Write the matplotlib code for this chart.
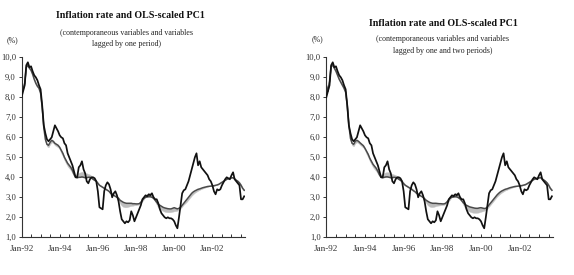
import matplotlib
matplotlib.use("Agg")
import matplotlib.pyplot as plt
import numpy as np

# ---- data (monthly, Jan-92 .. Sep-03) ----
inflation = [
    8.0, 8.3, 8.6, 9.6, 9.75, 9.5, 9.55, 9.3, 9.1, 9.0, 8.85, 8.6,      # 1992
    8.4, 7.6, 6.6, 6.2, 5.9, 5.8, 5.9, 6.0, 6.3, 6.6, 6.45, 6.3,        # 1993
    6.1, 6.0, 5.95, 5.7, 5.6, 5.2, 5.0, 4.8, 4.6, 4.3, 4.0, 4.0,        # 1994
    4.5, 4.6, 4.8, 4.4, 4.2, 3.8, 3.7, 3.9, 4.0, 4.0, 3.95, 3.8,        # 1995
    3.3, 2.5, 2.45, 2.4, 3.3, 3.6, 3.75, 3.65, 3.4, 3.0, 3.2, 3.3,      # 1996
    3.1, 2.8, 2.3, 1.9, 1.8, 1.7, 1.8, 1.75, 1.85, 2.3, 2.1, 1.8,       # 1997
    2.0, 2.2, 2.4, 2.6, 2.9, 3.0, 3.1, 3.05, 3.15, 3.1, 3.2, 3.0,       # 1998
    2.9, 2.9, 2.7, 2.4, 2.2, 2.1, 2.0, 1.95, 2.0, 1.95, 1.95, 1.9,      # 1999
    1.8, 1.6, 1.45, 2.0, 2.6, 3.2, 3.35, 3.4, 3.6, 3.8, 4.1, 4.4,       # 2000
    4.7, 5.0, 5.2, 4.6, 4.8, 4.5, 4.4, 4.3, 4.2, 4.1, 3.9, 3.8,         # 2001
    3.6, 3.3, 3.15, 3.4, 3.35, 3.4, 3.6, 3.75, 3.9, 4.0, 3.95, 3.9,     # 2002
    4.1, 4.25, 3.9, 3.8, 3.7, 3.6, 2.9, 2.9, 3.05,                      # 2003
]

pc1_left = [
    8.5, 8.4, 8.7, 9.5, 9.6, 9.45, 9.35, 9.15, 8.9, 8.7, 8.55, 8.45,
    8.2, 7.5, 6.5, 5.9, 5.65, 5.6, 5.75, 5.85, 5.8, 5.7, 5.65, 5.6,
    5.5, 5.35, 5.2, 5.0, 4.85, 4.7, 4.6, 4.5, 4.35, 4.15, 4.0, 3.98,
    4.0, 4.0, 4.02, 4.0, 3.98, 3.98, 4.0, 4.0, 3.97, 3.9, 3.85, 3.8,
    3.7, 3.6, 3.55, 3.5, 3.45, 3.4, 3.35, 3.3, 3.2, 3.15, 3.1, 3.05,
    3.0, 2.95, 2.85, 2.8, 2.75, 2.72, 2.7, 2.7, 2.7, 2.7, 2.68, 2.68,
    2.67, 2.67, 2.68, 2.75, 2.85, 2.95, 3.0, 3.02, 3.03, 3.03, 3.0, 2.95,
    2.85, 2.75, 2.65, 2.6, 2.55, 2.5, 2.47, 2.45, 2.43, 2.42, 2.42, 2.45,
    2.48, 2.45, 2.42, 2.45, 2.5, 2.6, 2.7, 2.8, 2.9, 3.0, 3.1, 3.2,
    3.27, 3.32, 3.36, 3.4, 3.42, 3.45, 3.48, 3.5, 3.52, 3.54, 3.55, 3.56,
    3.57, 3.58, 3.6, 3.62, 3.65, 3.7, 3.75, 3.8, 3.85, 3.9, 3.93, 3.95,
    3.97, 3.98, 3.92, 3.85, 3.8, 3.72, 3.6, 3.45, 3.35,
]

band_left = [
    8.55, 8.45, 8.75, 9.55, 9.65, 9.5, 9.4, 9.2, 8.95, 8.75, 8.6, 8.5,
    8.25, 7.4, 6.4, 5.8, 5.55, 5.5, 5.65, 5.75, 5.7, 5.6, 5.55, 5.5,
    5.4, 5.2, 5.05, 4.85, 4.7, 4.55, 4.45, 4.35, 4.2, 4.05, 4.12, 4.18,
    4.22, 4.25, 4.28, 4.25, 4.22, 4.2, 4.17, 4.14, 4.07, 3.98, 3.92, 3.85,
    3.75, 3.65, 3.6, 3.55, 3.5, 3.45, 3.4, 3.32, 3.25, 3.2, 3.12, 3.05,
    2.98, 2.85, 2.68, 2.58, 2.52, 2.5, 2.5, 2.52, 2.55, 2.57, 2.58, 2.6,
    2.6, 2.62, 2.65, 2.72, 2.8, 2.9, 3.12, 3.17, 3.2, 3.22, 3.14, 3.05,
    2.8, 2.62, 2.48, 2.42, 2.36, 2.31, 2.28, 2.26, 2.25, 2.25, 2.26, 2.28,
    2.3, 2.31, 2.33, 2.38, 2.43, 2.53, 2.63, 2.7, 2.78, 2.88, 2.98, 3.08,
    3.16, 3.23, 3.28, 3.33, 3.37, 3.41, 3.44, 3.47, 3.5, 3.53, 3.55, 3.56,
    3.57, 3.58, 3.6, 3.62, 3.66, 3.72, 3.78, 3.83, 3.88, 3.92, 3.96, 3.98,
    4.0, 4.02, 3.96, 3.9, 3.84, 3.76, 3.65, 3.5, 3.4,
]

pc1_right = [
    8.6, 8.3, 8.8, 9.55, 9.6, 9.45, 9.3, 9.1, 8.9, 8.75, 8.6, 8.45,
    8.25, 7.6, 6.6, 5.95, 5.7, 5.65, 5.8, 5.85, 5.8, 5.72, 5.65, 5.58,
    5.45, 5.3, 5.15, 4.95, 4.8, 4.65, 4.55, 4.45, 4.3, 4.12, 4.0, 3.98,
    4.0, 4.02, 4.02, 4.0, 3.98, 3.98, 4.0, 3.99, 3.96, 3.9, 3.85, 3.78,
    3.68, 3.6, 3.55, 3.5, 3.45, 3.4, 3.33, 3.28, 3.2, 3.15, 3.1, 3.05,
    3.0, 2.93, 2.85, 2.8, 2.75, 2.72, 2.7, 2.7, 2.7, 2.69, 2.68, 2.68,
    2.67, 2.67, 2.7, 2.78, 2.88, 2.97, 3.0, 3.02, 3.03, 3.02, 2.98, 2.92,
    2.83, 2.73, 2.65, 2.6, 2.56, 2.52, 2.5, 2.48, 2.46, 2.45, 2.45, 2.47,
    2.48, 2.46, 2.44, 2.45, 2.52, 2.62, 2.72, 2.82, 2.92, 3.02, 3.12, 3.2,
    3.27, 3.32, 3.36, 3.4, 3.42, 3.45, 3.48, 3.5, 3.52, 3.54, 3.55, 3.56,
    3.57, 3.58, 3.6, 3.62, 3.65, 3.7, 3.75, 3.8, 3.85, 3.9, 3.93, 3.95,
    3.97, 3.98, 3.92, 3.86, 3.8, 3.72, 3.6, 3.45, 3.35,
]

band_right = [
    8.65, 8.4, 8.85, 9.6, 9.65, 9.5, 9.35, 9.15, 8.95, 8.8, 8.65, 8.5,
    8.3, 7.5, 6.5, 5.85, 5.6, 5.55, 5.7, 5.75, 5.7, 5.62, 5.55, 5.48,
    5.35, 5.15, 5.0, 4.8, 4.65, 4.5, 4.4, 4.3, 4.18, 4.05, 4.12, 4.18,
    4.22, 4.25, 4.26, 4.23, 4.2, 4.17, 4.14, 4.11, 4.05, 3.98, 3.92, 3.85,
    3.75, 3.65, 3.6, 3.55, 3.5, 3.45, 3.4, 3.32, 3.25, 3.2, 3.12, 3.05,
    2.98, 2.85, 2.7, 2.6, 2.54, 2.51, 2.51, 2.53, 2.56, 2.58, 2.59, 2.6,
    2.61, 2.62, 2.65, 2.72, 2.8, 2.9, 3.12, 3.17, 3.2, 3.22, 3.14, 3.05,
    2.8, 2.62, 2.48, 2.4, 2.33, 2.28, 2.25, 2.23, 2.22, 2.22, 2.23, 2.25,
    2.28, 2.3, 2.33, 2.38, 2.43, 2.53, 2.63, 2.73, 2.83, 2.93, 3.03, 3.11,
    3.18, 3.24, 3.29, 3.34, 3.37, 3.41, 3.44, 3.47, 3.5, 3.53, 3.55, 3.56,
    3.57, 3.58, 3.6, 3.62, 3.66, 3.72, 3.78, 3.83, 3.88, 3.92, 3.96, 3.98,
    4.0, 4.02, 3.96, 3.9, 3.84, 3.76, 3.65, 3.5, 3.4,
]

tick_labels = ["Jan-92", "Jan-94", "Jan-96", "Jan-98", "Jan-00", "Jan-02"]
y_ticks = [1, 2, 3, 4, 5, 6, 7, 8, 9, 10]

title = "Inflation rate and OLS-scaled PC1"
subtitles = ["(contemporaneous variables and variables\nlagged by one period)",
             "(contemporaneous variables and variables\nlagged by one and two periods)"]

plt.rcParams['font.family'] = ['Liberation Serif', 'DejaVu Serif']

W, H = 574, 275
fig = plt.figure(figsize=(W / 100, H / 100), dpi=100)

panels = [
    dict(rect=(21.5, 57.3, 245.0, 237.3), pc1=pc1_left, band=band_left,
         title_xy=(130, 16), sub_xy=(127, 38.5), pct_xy=(12, 40)),
    dict(rect=(326.3, 57.3, 552.7, 237.3), pc1=pc1_right, band=band_right,
         title_xy=(443, 24), sub_xy=(443, 45), pct_xy=(317, 39)),
]

def fx(px):
    return px / W

def fy(py):
    return 1 - py / H

for i, p in enumerate(panels):
    x0, y0, x1, y1 = p["rect"]
    ax = fig.add_axes([fx(x0), fy(y1), fx(x1) - fx(x0), fy(y0) - fy(y1)])
    x = np.arange(len(inflation))
    ax.fill_between(x, p["pc1"], p["band"], color="#bdbdbd", lw=0.3,
                    edgecolor="#c8c8c8", zorder=1)
    ax.plot(x, p["pc1"], color="#4a4a4a", lw=1.1, zorder=2)
    ax.plot(x, inflation, color="#111111", lw=1.25, zorder=3)
    ax.set_xlim(0, 140.5)
    ax.set_ylim(1, 10)
    ax.set_yticks(y_ticks)
    ax.set_yticklabels([f"{v:.1f}".replace(".", ",") for v in y_ticks])
    ax.set_xticks(np.arange(0, 141, 6), minor=True)
    ax.set_xticks(np.arange(0, 24 * len(tick_labels), 24))
    ax.set_xticklabels(tick_labels)
    for s in ("top", "right"):
        ax.spines[s].set_visible(False)
    for s in ("left", "bottom"):
        ax.spines[s].set_color("#333333")
        ax.spines[s].set_linewidth(0.8)
    ax.tick_params(axis="y", direction="out", length=2.5, width=0.7,
                   labelsize=6.2, pad=1.5, colors="#333333")
    ax.tick_params(axis="x", which="both", direction="in", length=2.5, width=0.7,
                   labelsize=6.6, pad=5.5, colors="#333333")
    ax.set_facecolor("none")

    tx, ty = p["title_xy"]
    fig.text(fx(tx), fy(ty), title, ha="center", va="center",
             fontsize=7.2, fontweight="bold", color="#111111")
    sx, sy = p["sub_xy"]
    fig.text(fx(sx), fy(sy), subtitles[i], ha="center", va="center",
             fontsize=5.7, color="#222222", linespacing=1.55)
    px_, py_ = p["pct_xy"]
    fig.text(fx(px_), fy(py_), "(%)", ha="center", va="center",
             fontsize=5.6, color="#222222")

fig.savefig("out.png", dpi=100)
